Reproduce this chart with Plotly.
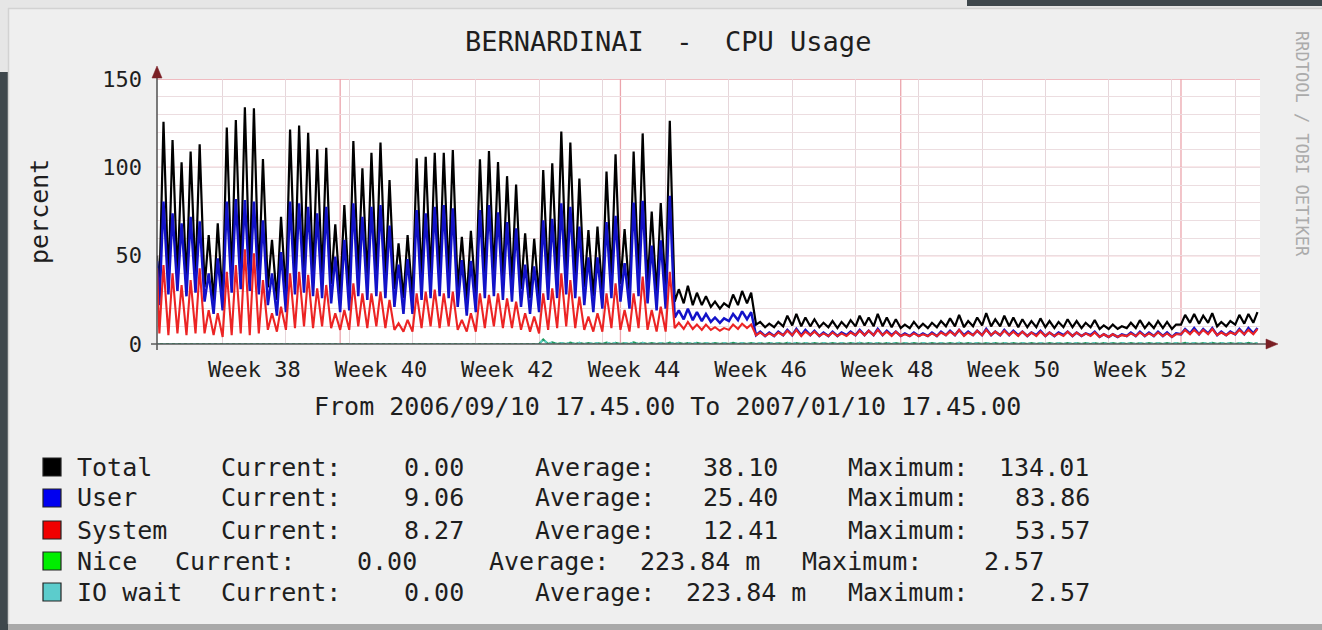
import plotly.graph_objects as go
import pandas as pd

# ------------------------------------------------------------------ data
range_start = "2006-09-10 17:45"
range_end = "2007-01-10 17:45"
first_day = "2006-09-11"
n_days = 122

# values at the left edge (Sunday evening)
start_total, start_user, start_system, start_nice = 50.0, 47.0, 43.0, 0.0

# daily peaks (~11:00) and night troughs (~00:00), day 0 = Mon 2006-09-11
total_hi = [125.8, 115.5, 102.8, 109.0, 113.0, 61.7, 68.3,
            122.5, 126.8, 134.01, 133.4, 104.7, 58.9, 72.0,
            121.4, 123.7, 119.6, 110.2, 111.1, 67.7, 78.7,
            114.9, 99.4, 108.3, 114.0, 92.8, 57.0, 61.7,
            105.1, 106.0, 108.3, 108.3, 109.8, 60.7, 64.1,
            104.5, 109.2, 103.0, 95.0, 90.2, 62.6, 59.6,
            98.5, 102.3, 120.3, 114.0, 93.7, 64.5, 66.4,
            97.6, 107.4, 65.0, 109.0, 119.2, 74.9, 79.8,
            126.3,
            31, 33, 29, 27, 24, 23, 28, 30, 29,
            12.5, 11.5, 12.5, 16, 17, 15, 14,
            12, 13, 12.5, 13.5, 16, 15, 17,
            15, 14, 11, 12.5, 11.5, 12, 13,
            14.5, 16.5, 13, 15, 17.5, 14, 16,
            15, 14, 13, 14.5, 13, 12.5, 14,
            13, 12, 13.5, 10.5, 11, 10, 12,
            13.5, 12, 13, 12.5, 11, 16.5, 17,
            16, 17.5, 12.5, 13, 16.5, 17, 18]
total_lo = [30, 35, 38, 34, 37, 32, 24,
            25, 36, 39, 37, 36, 32, 25,
            28, 39, 41, 38, 38, 34, 28,
            29, 39, 36, 39, 37, 31, 26,
            26, 36, 38, 38, 38, 31, 25,
            27, 37, 39, 36, 35, 31, 26,
            26, 35, 37, 40, 37, 32, 27,
            29, 37, 34, 29, 38, 33, 28,
            29,
            24, 23, 22, 22, 21, 20, 21, 22, 23,
            11, 9.5, 9.5, 10, 10.5, 10, 10,
            9.5, 9.5, 9, 9.5, 10, 10.5, 10,
            10, 9.5, 9, 9, 9, 9, 9.5,
            10, 10, 9.5, 10, 10.5, 10, 10,
            10, 9.5, 9.5, 9.5, 9.5, 9, 9.5,
            9.5, 9, 9.5, 8.5, 8.5, 8.5, 9,
            9, 9, 9, 9, 8.5, 11, 12,
            11.5, 12, 10, 10, 11, 11.5, 12]
user_hi = [80.6, 74.0, 68.3, 72.0, 69.5, 40.0, 48.5,
           80.6, 82.0, 81.5, 80.6, 70.0, 40.0, 52.0,
           80.6, 79.6, 77.7, 74.0, 77.7, 49.4, 59.0,
           79.6, 72.0, 77.7, 78.7, 67.0, 45.0, 48.0,
           75.8, 74.0, 77.7, 78.7, 76.8, 47.5, 47.0,
           75.8, 78.7, 74.5, 69.0, 65.5, 45.0, 44.0,
           70.0, 70.8, 79.6, 77.7, 66.5, 49.0, 49.0,
           69.0, 72.5, 45.8, 80.0, 81.0, 55.7, 58.7,
           83.86,
           19, 20, 18, 17, 15, 14.5, 17, 18.5, 18,
           7, 6.5, 7, 8, 8.5, 8, 7.5,
           6.5, 7, 6.5, 7, 8, 7.5, 8.5,
           7.5, 7, 6, 6.5, 6, 6.5, 7,
           7.5, 8, 7, 7.5, 8.5, 7, 8,
           7.5, 7, 6.5, 7.5, 6.5, 6.5, 7,
           6.5, 6, 7, 5.5, 5.5, 5.5, 6.5,
           7, 6.5, 7, 6.5, 6, 8.5, 9,
           8.5, 9, 7, 7, 8.5, 9, 9]
user_lo = [22, 28, 30, 27, 29, 24, 17,
           19, 29, 31, 30, 28, 22, 16,
           18, 28, 29, 27, 26, 23, 18,
           19, 27, 25, 27, 26, 21, 17,
           17, 25, 26, 27, 26, 21, 16,
           18, 26, 27, 25, 24, 21, 17,
           18, 25, 26, 28, 26, 22, 18,
           20, 26, 24, 20, 27, 23, 19,
           20,
           15, 14, 13.5, 13, 12.5, 12, 13, 13.5, 14,
           5, 4.5, 4.5, 5, 5, 5, 5,
           4.5, 4.5, 4.5, 5, 5, 5, 5,
           5, 5, 4.5, 4.5, 4.5, 4.5, 4.5,
           5, 5, 5, 5, 5, 5, 5,
           5, 5, 4.5, 5, 4.5, 4.5, 5,
           4.5, 4.5, 5, 4, 4, 4, 4.5,
           4.5, 4.5, 4.5, 4.5, 4, 5.5, 6,
           5.5, 6, 5, 5, 5.5, 5.5, 6]
system_hi = [44.7, 40.0, 33.4, 36.2, 42.8, 19.2, 17.4,
             40.9, 44.7, 53.57, 51.3, 36.2, 17.4, 21.1,
             40.0, 40.9, 39.1, 31.5, 33.4, 17.4, 19.2,
             34.3, 28.7, 28.7, 29.6, 24.9, 11.7, 13.6,
             28.7, 29.6, 30.8, 28.7, 29.6, 13.6, 17.4,
             28.7, 27.8, 28.7, 25.8, 24.0, 17.4, 15.5,
             28.7, 31.5, 40.0, 36.2, 26.8, 15.5, 17.4,
             28.7, 34.3, 19.2, 28.7, 38.1, 19.2, 21.1,
             40.9,
             12, 12.5, 11, 11, 9.5, 9, 11, 11.5, 11,
             6.5, 6, 6.5, 7.5, 8, 7, 7,
             6, 6.5, 6, 6.5, 7.5, 7.5, 8,
             7, 7, 5.5, 6, 5.5, 6, 6.5,
             7, 8, 6.5, 7.5, 8, 7, 7.5,
             7, 7, 6.5, 7, 6.5, 6, 7,
             6.5, 6, 6.5, 5.5, 5.5, 5, 6,
             6.5, 6, 6.5, 6, 5.5, 8, 8,
             8, 8.5, 6.5, 6.5, 8, 8, 8.5]
system_lo = [6, 5, 6, 5, 6, 6, 5,
             4, 5, 6, 5, 6, 8, 7,
             8, 9, 10, 9, 10, 9, 8,
             8, 10, 9, 10, 9, 8, 7,
             7, 9, 10, 9, 10, 8, 7,
             7, 9, 10, 9, 9, 8, 7,
             6, 8, 9, 10, 9, 8, 7,
             7, 9, 8, 7, 9, 8, 7,
             7,
             9, 8.5, 8.5, 8, 8, 7.5, 8, 8.5, 9,
             5, 4.5, 4.5, 5, 5, 4.5, 5,
             4.5, 4.5, 4.5, 4.5, 5, 5, 5,
             5, 4.5, 4.5, 4.5, 4.5, 4.5, 4.5,
             5, 5, 4.5, 5, 5, 5, 5,
             5, 4.5, 4.5, 4.5, 4.5, 4.5, 4.5,
             4.5, 4.5, 4.5, 4, 4, 4, 4.5,
             4.5, 4.5, 4.5, 4.5, 4, 5.5, 5.5,
             5.5, 5.5, 5, 5, 5.5, 5.5, 5.5]
nice_hi = [0.0] * 42 + [
    2.57, 0.9, 0.6, 0.8, 0.7, 0.5, 0.6,
    0.8, 0.7, 0.6, 0.9, 0.7, 0.5, 0.6,
    0.8, 0.7, 0.6, 0.7, 0.6, 0.5, 0.5,
    0.7, 0.6, 0.6, 0.5, 0.6, 0.5, 0.7,
    0.6, 0.5, 0.6, 0.5, 0.6, 0.5, 0.6,
    0.7, 0.6, 0.5, 0.6, 0.5, 0.5, 0.6,
    0.5, 0.6, 0.5, 0.6, 0.7, 0.5, 0.6,
    0.6, 0.5, 0.6, 0.5, 0.6, 0.5, 0.6,
    0.5, 0.5, 0.6, 0.5, 0.5, 0.6, 0.5,
    0.5, 0.5, 0.6, 0.5, 0.6, 0.5, 0.5,
    0.5, 0.7, 0.6, 0.6, 0.7, 0.5, 0.6,
    0.6, 0.7, 0.6]
nice_lo = [0.0] * 122
iowait_hi = nice_hi
iowait_lo = nice_lo

# legend
series_names = ["Total", "User", "System", "Nice", "IO wait"]
legend_colors = ["#000000", "#0000f0", "#f00000", "#00ee00", "#5ccccc"]
current_vals = ["0.00", "9.06", "8.27", "0.00", "0.00"]
average_vals = ["38.10", "25.40", "12.41", "223.84 m", "223.84 m"]
maximum_vals = ["134.01", "83.86", "53.57", "2.57", "2.57"]

# axis labels
week_label_dates = ["2006-09-21 12:00", "2006-10-05 12:00", "2006-10-19 12:00",
                    "2006-11-02 12:00", "2006-11-16 12:00", "2006-11-30 12:00",
                    "2006-12-14 12:00", "2006-12-28 12:00"]
week_labels = ["Week 38", "Week 40", "Week 42", "Week 44",
               "Week 46", "Week 48", "Week 50", "Week 52"]
week_grid_dates = [str(d.date()) for d in pd.date_range("2006-09-18", "2007-01-08", freq="7D")]
month_grid_dates = ["2006-10-01", "2006-11-01", "2006-12-02", "2007-01-02"]
y_ticks = [0, 50, 100, 150]
y_major_grid = [50, 100, 150]

# ------------------------------------------------------------------ build
days = pd.date_range(first_day, periods=n_days, freq="D")
xs = [pd.Timestamp(range_start)]
for d in days:
    xs += [d, d + pd.Timedelta(hours=11)]


def interleave(first, lo, hi):
    ys = [first]
    for a, b in zip(lo, hi):
        ys += [a, b]
    return ys


FONT = "DejaVu Sans Mono"
W, H = 1322, 630
L, R, T, B = 157, 62, 79, 286
PW, PH = W - L - R, H - T - B


def px(x):
    return (x - L) / PW


def py(y):
    return (H - B - y) / PH


fig = go.Figure()
line_specs = [
    ("Total", interleave(start_total, total_lo, total_hi), "#000000", 2.2, None),
    ("User", interleave(start_user, user_lo, user_hi), "#1212c8", 2.5, None),
    ("System", interleave(start_system, system_lo, system_hi), "#ec2424", 2.1, None),
    ("Nice", interleave(start_nice, nice_lo, nice_hi), "#1f9a60", 2.0, None),
    ("IO wait", interleave(start_nice, iowait_lo, iowait_hi), "#60cfc4", 2.0, "dot"),
]
for name, ys, col, w, dash in line_specs:
    fig.add_trace(go.Scatter(x=xs, y=ys, mode="lines", name=name,
                             line=dict(color=col, width=w, dash=dash),
                             showlegend=False, hoverinfo="skip"))

GRID_MAJOR = "#eba4ac"
shapes = []
# page surroundings
DARK = "#3e474c"
shapes += [
    dict(type="rect", xref="paper", yref="paper", x0=px(0), x1=px(W), y0=py(0), y1=py(8),
         fillcolor="#e6e6e6", line_width=0, layer="below"),
    dict(type="rect", xref="paper", yref="paper", x0=px(0), x1=px(8), y0=py(0), y1=py(72),
         fillcolor="#e6e6e6", line_width=0, layer="below"),
    dict(type="rect", xref="paper", yref="paper", x0=px(967), x1=px(W), y0=py(0), y1=py(6),
         fillcolor=DARK, line_width=0, layer="below"),
    dict(type="rect", xref="paper", yref="paper", x0=px(0), x1=px(8), y0=py(72), y1=py(H),
         fillcolor=DARK, line_width=0, layer="below"),
    dict(type="rect", xref="paper", yref="paper", x0=px(8), x1=px(W), y0=py(624), y1=py(H),
         fillcolor="#a9a9a9", line_width=0, layer="below"),
    dict(type="line", xref="paper", yref="paper", x0=px(8), x1=px(W), y0=py(8.5), y1=py(8.5),
         line=dict(color="#d2d2d2", width=1.5), layer="below"),
    dict(type="line", xref="paper", yref="paper", x0=px(8.5), x1=px(8.5), y0=py(8), y1=py(624),
         line=dict(color="#d2d2d2", width=1.5), layer="below"),
]
# month (major) vertical grid lines and major horizontal grid lines
for md in month_grid_dates:
    shapes.append(dict(type="line", xref="x", yref="paper", x0=md, x1=md, y0=0, y1=1,
                       line=dict(color=GRID_MAJOR, width=1.3), layer="between"))
for gy in y_major_grid:
    shapes.append(dict(type="line", xref="paper", yref="y", x0=0, x1=1, y0=gy, y1=gy,
                       line=dict(color=GRID_MAJOR, width=1.3), layer="between"))
# axes
AX = "#5a5a5a"
ARROW = "#7a1f24"
shapes += [
    dict(type="line", xref="paper", yref="paper", x0=px(157), x1=px(157), y0=py(350), y1=py(72),
         line=dict(color=AX, width=1.6), layer="above"),
    dict(type="line", xref="paper", yref="paper", x0=px(151), x1=px(1268), y0=py(344), y1=py(344),
         line=dict(color=AX, width=1.6), layer="above"),
    dict(type="path", xref="paper", yref="paper",
         path=f"M {px(157)} {py(66)} L {px(152)} {py(78)} L {px(162)} {py(78)} Z",
         fillcolor=ARROW, line=dict(color=ARROW, width=0.5), layer="above"),
    dict(type="path", xref="paper", yref="paper",
         path=f"M {px(1278)} {py(344)} L {px(1266)} {py(339)} L {px(1266)} {py(349)} Z",
         fillcolor=ARROW, line=dict(color=ARROW, width=0.5), layer="above"),
]
# legend squares
row_y = [467, 498, 530, 561, 592]
for ry, col in zip(row_y, legend_colors):
    shapes.append(dict(type="rect", xref="paper", yref="paper",
                       x0=px(43), x1=px(61), y0=py(ry - 9), y1=py(ry + 9),
                       fillcolor=col, line=dict(color="#222222", width=1.2), layer="above"))

ann = []
TXT = "#1e1e1e"


def text(s, x, y, size, xanchor="center", angle=0, color=TXT):
    ann.append(dict(text=s, x=px(x), y=py(y), xref="paper", yref="paper",
                    xanchor=xanchor, yanchor="middle", showarrow=False, textangle=angle,
                    font=dict(family=FONT, size=size, color=color)))


text("BERNARDINAI  -  CPU Usage", 668, 41, 27)
text("percent", 39, 211, 25, angle=-90)
text("From 2006/09/10 17.45.00 To 2007/01/10 17.45.00", 667, 406, 25)
text("RRDTOOL / TOBI OETIKER", 1302, 144, 17, angle=90, color="#ababab")

cur_lab_x = [219, 219, 219, 173, 219]
cur_val_r = [466, 466, 466, 419, 466]
avg_lab_x = [533, 533, 533, 487, 533]
avg_val_r = [780, 780, 780, 762, 808]
max_lab_x = [846, 846, 846, 800, 846]
max_val_r = [1091, 1092, 1092, 1046, 1092]
for i, ry in enumerate(row_y):
    text(series_names[i], 75, ry, 25, xanchor="left")
    text("Current:", cur_lab_x[i], ry, 25, xanchor="left")
    text(current_vals[i], cur_val_r[i], ry, 25, xanchor="right")
    text("Average:", avg_lab_x[i], ry, 25, xanchor="left")
    text(average_vals[i], avg_val_r[i], ry, 25, xanchor="right")
    text("Maximum:", max_lab_x[i], ry, 25, xanchor="left")
    text(maximum_vals[i], max_val_r[i], ry, 25, xanchor="right")

fig.update_layout(
    width=W, height=H,
    margin=dict(l=L, r=R, t=T, b=B, pad=0),
    paper_bgcolor="#efefef",
    plot_bgcolor="#ffffff",
    shapes=shapes,
    annotations=ann,
    showlegend=False,
    xaxis=dict(type="date", range=[range_start, range_end],
               tickmode="array", tickvals=week_label_dates, ticktext=week_labels,
               showgrid=False, zeroline=False, showline=False, ticks="",
               ticklabelstandoff=10,
               tickfont=dict(family=FONT, size=22, color=TXT),
               minor=dict(tickmode="array", tickvals=week_grid_dates, showgrid=True,
                          gridcolor="#e6d6da", gridwidth=1, ticks="")),
    yaxis=dict(range=[0, 150], tickmode="array", tickvals=y_ticks,
               showgrid=False, zeroline=False, showline=False, ticks="",
               ticklabelstandoff=14,
               tickfont=dict(family=FONT, size=22, color=TXT),
               minor=dict(dtick=10, showgrid=True, gridcolor="#ecdde0", gridwidth=1)),
)

fig.write_html("out.html", config={"displayModeBar": False},
               post_script="document.body.style.margin='0';document.body.style.overflow='hidden';")
